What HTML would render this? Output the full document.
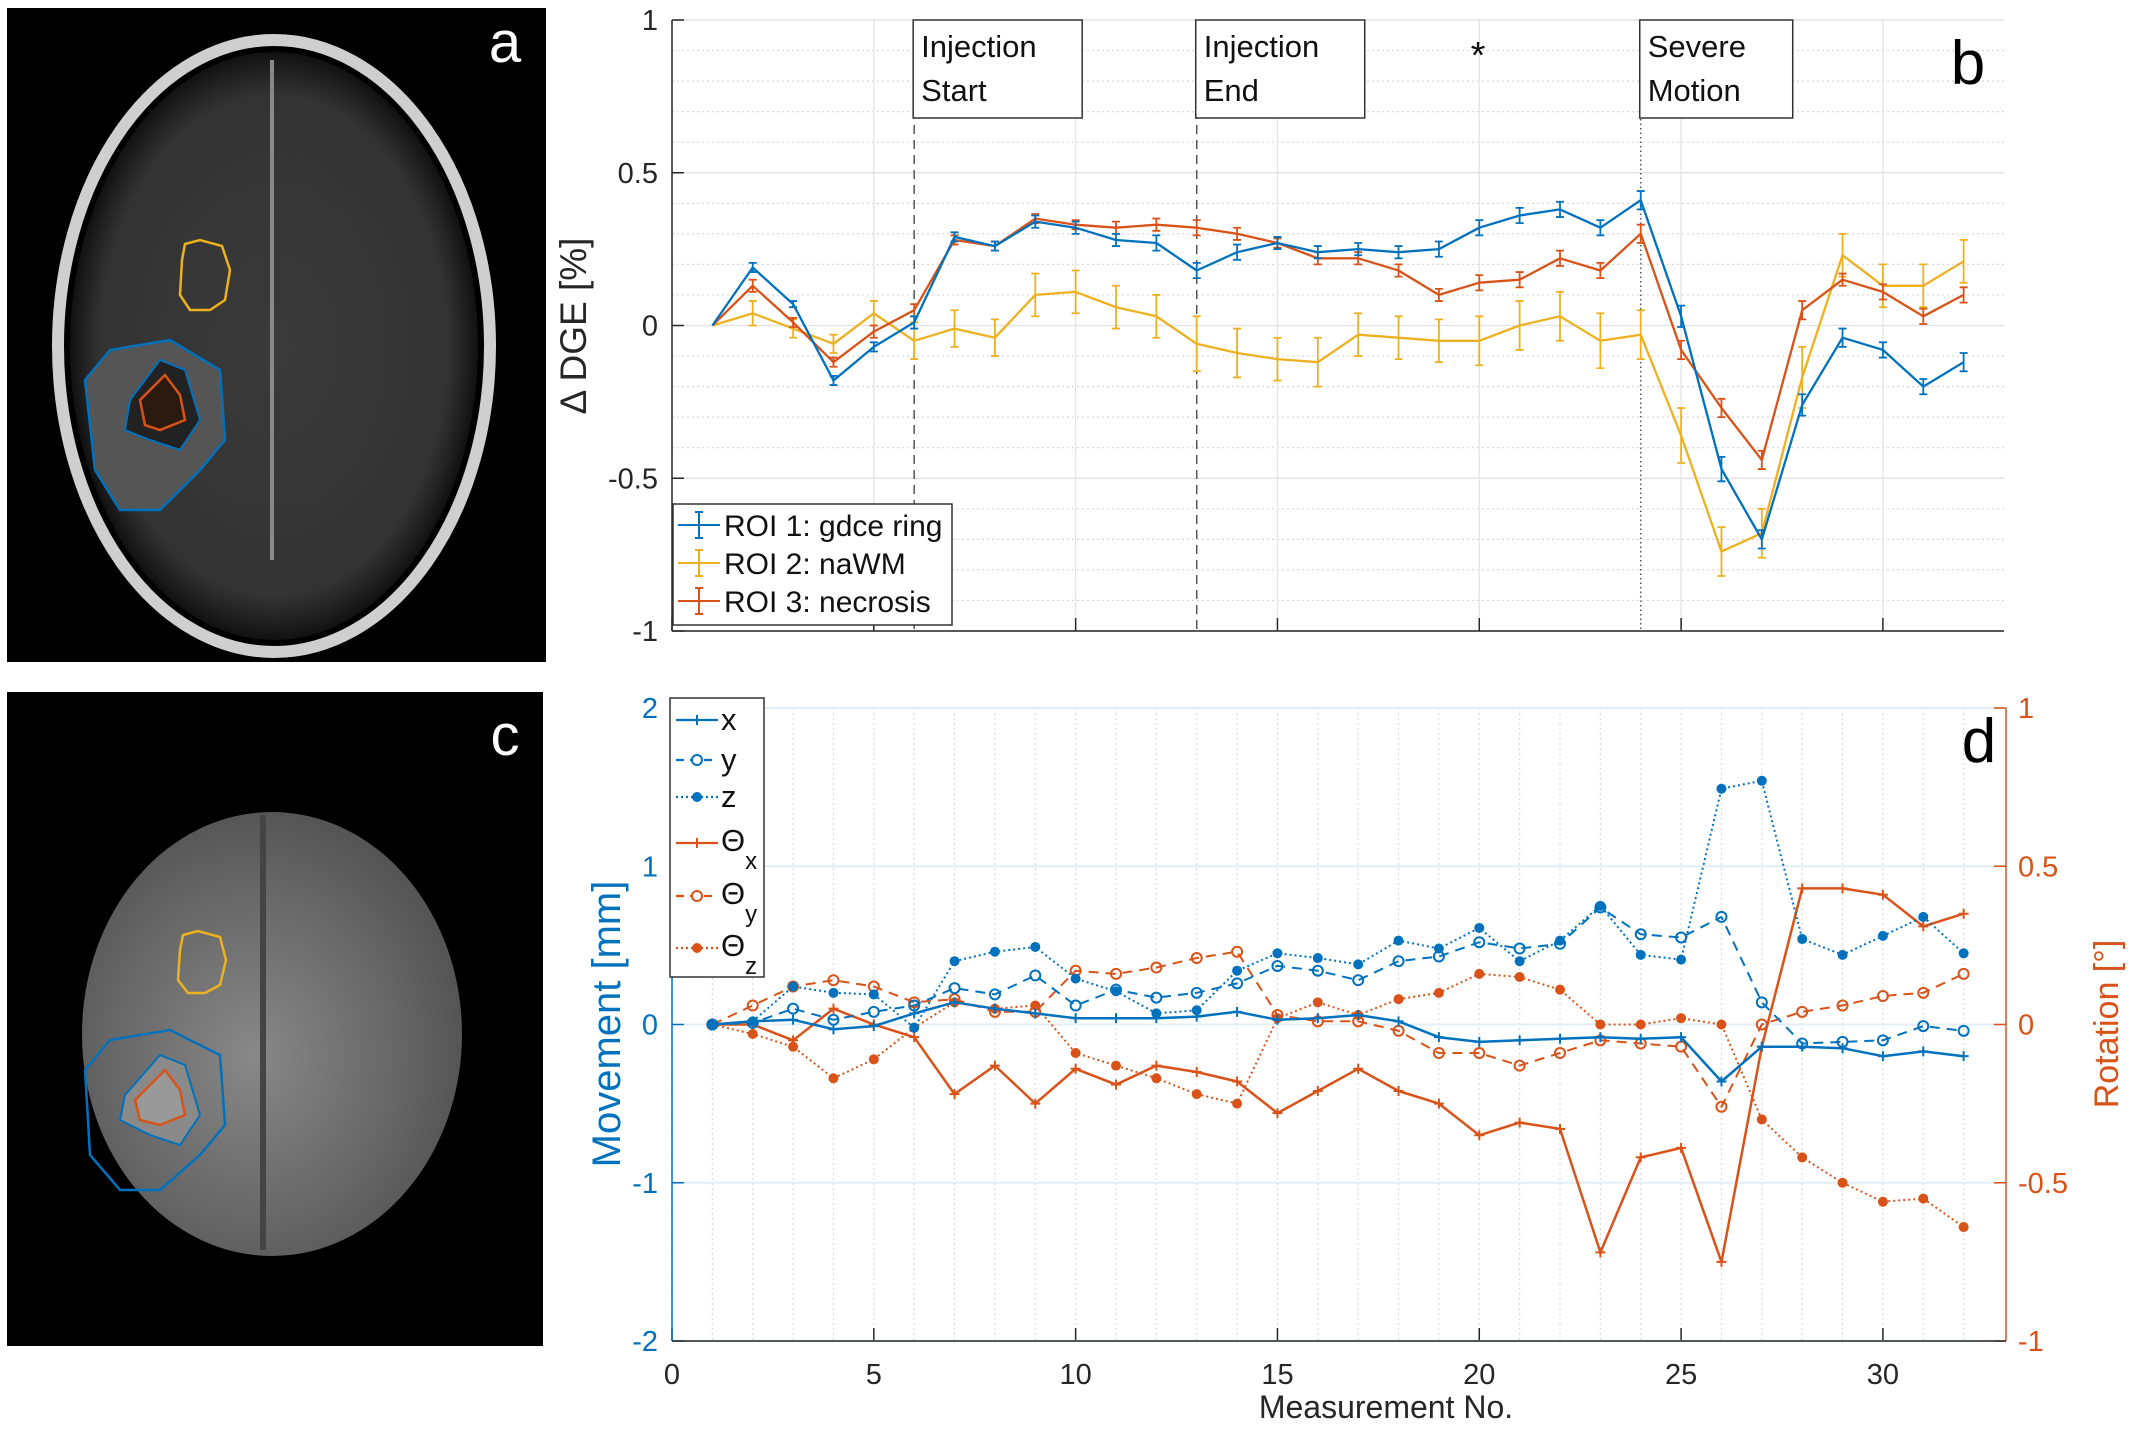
<!DOCTYPE html>
<html><head><meta charset="utf-8">
<style>
body{margin:0;background:#fff;}
svg{display:block;font-family:"Liberation Sans",sans-serif;}
</style></head>
<body>
<svg id="fig" width="2135" height="1431" viewBox="0 0 2135 1431" xmlns="http://www.w3.org/2000/svg">
<defs>
<radialGradient id="brainA" cx="50%" cy="50%" r="50%"><stop offset="0%" stop-color="#3a3a3a"/><stop offset="85%" stop-color="#333"/><stop offset="93%" stop-color="#222"/><stop offset="100%" stop-color="#111"/></radialGradient>
<radialGradient id="brainC" cx="45%" cy="55%" r="55%"><stop offset="0%" stop-color="#888"/><stop offset="70%" stop-color="#666"/><stop offset="100%" stop-color="#555"/></radialGradient>
</defs>
<g>
<rect x="7" y="8" width="539" height="654" fill="#000"/>
<ellipse cx="274" cy="346" rx="216" ry="306" fill="none" stroke="#cfcfcf" stroke-width="12"/>
<ellipse cx="274" cy="346" rx="204" ry="294" fill="url(#brainA)"/>
<line x1="272" y1="60" x2="272" y2="560" stroke="#888" stroke-width="4"/>
<path d="M185 244 L200 240 L222 246 L230 270 L225 300 L210 310 L190 310 L180 295 L182 260 Z" fill="none" stroke="#EDB120" stroke-width="2.5"/>
<path d="M85 380 L110 350 L170 340 L220 370 L225 440 L200 470 L160 510 L120 510 L95 470 Z" fill="#555" stroke="#0072BD" stroke-width="2.5"/>
<path d="M130 400 L160 360 L185 370 L200 420 L180 450 L150 440 L125 430 Z" fill="#222" stroke="#0072BD" stroke-width="2"/>
<path d="M140 400 L165 375 L180 395 L185 420 L160 430 L145 425 Z" fill="#2a1a10" stroke="#D95319" stroke-width="2.5"/>
<text x="505" y="62" font-size="58" fill="#fff" text-anchor="middle">a</text>
</g>
<g>
<rect x="7" y="692" width="536" height="654" fill="#000"/>
<ellipse cx="272" cy="1034" rx="190" ry="222" fill="url(#brainC)"/>
<line x1="263" y1="815" x2="263" y2="1250" stroke="#444" stroke-width="6"/>
<path d="M183 935 L198 931 L220 937 L226 960 L220 985 L205 993 L188 993 L178 980 L180 950 Z" fill="none" stroke="#EDB120" stroke-width="2.5"/>
<path d="M85 1070 L110 1040 L170 1030 L220 1055 L225 1125 L200 1155 L160 1190 L120 1190 L90 1155 Z" fill="none" stroke="#0072BD" stroke-width="2.5"/>
<path d="M125 1095 L160 1055 L185 1065 L200 1115 L180 1145 L150 1135 L120 1120 Z" fill="#8a8a8a" stroke="#0072BD" stroke-width="2"/>
<path d="M135 1100 L165 1070 L180 1090 L185 1115 L160 1125 L140 1120 Z" fill="#999" stroke="#D95319" stroke-width="2.5"/>
<text x="505" y="755" font-size="58" fill="#fff" text-anchor="middle">c</text>
</g>
<g id="pb"></g>
<g id="pd"></g>
</svg>
<script>
// ---------- Panel b data ----------
const bX = [1,2,3,4,5,6,7,8,9,10,11,12,13,14,15,16,17,18,19,20,21,22,23,24,25,26,27,28,29,30,31,32];
const roi1 = [0,0.19,0.07,-0.18,-0.07,0.01,0.29,0.26,0.34,0.32,0.28,0.27,0.18,0.24,0.27,0.24,0.25,0.24,0.25,0.32,0.36,0.38,0.32,0.41,0.03,-0.47,-0.70,-0.26,-0.04,-0.08,-0.20,-0.12];
const roi1Err = [0,0.015,0.01,0.015,0.015,0.02,0.015,0.015,0.02,0.02,0.02,0.025,0.025,0.025,0.02,0.02,0.02,0.02,0.025,0.025,0.025,0.025,0.025,0.03,0.035,0.04,0.03,0.035,0.03,0.025,0.025,0.03];
const roi2 = [0,0.04,-0.01,-0.06,0.04,-0.05,-0.01,-0.04,0.10,0.11,0.06,0.03,-0.06,-0.09,-0.11,-0.12,-0.03,-0.04,-0.05,-0.05,0.0,0.03,-0.05,-0.03,-0.36,-0.74,-0.68,-0.17,0.23,0.13,0.13,0.21];
const roi2Err = [0,0.04,0.03,0.03,0.04,0.06,0.06,0.06,0.07,0.07,0.07,0.07,0.09,0.08,0.07,0.08,0.07,0.07,0.07,0.08,0.08,0.08,0.09,0.08,0.09,0.08,0.08,0.1,0.07,0.07,0.07,0.07];
const roi3 = [0,0.13,0.01,-0.12,-0.02,0.05,0.28,0.26,0.35,0.33,0.32,0.33,0.32,0.30,0.27,0.22,0.22,0.18,0.10,0.14,0.15,0.22,0.18,0.30,-0.08,-0.27,-0.44,0.05,0.15,0.11,0.03,0.10];
const roi3Err = [0,0.02,0.015,0.015,0.02,0.02,0.015,0.015,0.015,0.015,0.02,0.02,0.025,0.02,0.015,0.02,0.02,0.02,0.02,0.025,0.025,0.025,0.025,0.03,0.03,0.03,0.03,0.03,0.02,0.025,0.025,0.025];
const bYTicks = [-1,-0.5,0,0.5,1];
const bYTickLabels = ["-1","-0.5","0","0.5","1"];
const events = [6,13,24];
const eventLabels = [["Injection","Start"],["Injection","End"],["Severe","Motion"]];
const xTicks = [0,5,10,15,20,25,30];
const xTickLabels = ["0","5","10","15","20","25","30"];
// ---------- Panel d data ----------
const dX = [1,2,3,4,5,6,7,8,9,10,11,12,13,14,15,16,17,18,19,20,21,22,23,24,25,26,27,28,29,30,31,32];
const movX = [0,0.02,0.03,-0.03,-0.01,0.07,0.14,0.10,0.07,0.04,0.04,0.04,0.05,0.08,0.03,0.04,0.06,0.02,-0.08,-0.11,-0.10,-0.09,-0.08,-0.09,-0.08,-0.36,-0.14,-0.14,-0.15,-0.20,-0.17,-0.20];
const movY = [0,0.01,0.10,0.03,0.08,0.12,0.23,0.19,0.31,0.12,0.22,0.17,0.20,0.26,0.37,0.34,0.28,0.40,0.43,0.52,0.48,0.51,0.74,0.57,0.55,0.68,0.14,-0.12,-0.11,-0.10,-0.01,-0.04];
const movZ = [0,0.02,0.24,0.20,0.19,-0.02,0.40,0.46,0.49,0.29,0.21,0.07,0.09,0.34,0.45,0.42,0.38,0.53,0.48,0.61,0.40,0.53,0.75,0.44,0.41,1.49,1.54,0.54,0.44,0.56,0.68,0.45];
const rotX = [0,0.0,-0.05,0.05,0.0,-0.04,-0.22,-0.13,-0.25,-0.14,-0.19,-0.13,-0.15,-0.18,-0.28,-0.21,-0.14,-0.21,-0.25,-0.35,-0.31,-0.33,-0.72,-0.42,-0.39,-0.75,-0.07,0.43,0.43,0.41,0.31,0.35];
const rotY = [0,0.06,0.12,0.14,0.12,0.07,0.08,0.04,0.04,0.17,0.16,0.18,0.21,0.23,0.03,0.01,0.01,-0.02,-0.09,-0.09,-0.13,-0.09,-0.05,-0.06,-0.07,-0.26,0.0,0.04,0.06,0.09,0.10,0.16];
const rotZ = [0,-0.03,-0.07,-0.17,-0.11,-0.01,0.07,0.05,0.06,-0.09,-0.13,-0.17,-0.22,-0.25,0.02,0.07,0.03,0.08,0.10,0.16,0.15,0.11,0.0,0.0,0.02,0.0,-0.30,-0.42,-0.50,-0.56,-0.55,-0.64];
const dYTicks = [-2,-1,0,1,2];
const dYTickLabels = ["-2","-1","0","1","2"];
const dRTicks = [-1,-0.5,0,0.5,1];
const dRTickLabels = ["-1","-0.5","0","0.5","1"];

const BLUE="#0072BD", YEL="#EDB120", RED="#D95319";
const NS="http://www.w3.org/2000/svg";
function mk(parent, tag, attrs, text){
  const e=document.createElementNS(NS,tag);
  for(const k in attrs) e.setAttribute(k, attrs[k]);
  if(text!==undefined) e.textContent=text;
  parent.appendChild(e); return e;
}
const L=672, R=2004, XMAX=33;
function xs(v){return L+(R-L)*v/XMAX;}

// ======== Panel b ========
const pb=document.getElementById('pb');


const bT=20, bB=631;
function yb(v){return bB-(bB-bT)*(v+1)/2;}
for(let v=-0.9; v<0.95; v+=0.1){
  if(Math.abs(Math.round(v*10)%5)===0) continue;
  mk(pb,'line',{x1:L,x2:R,y1:yb(v),y2:yb(v),stroke:"#d8d8d8","stroke-width":1.2,"stroke-dasharray":"2 3"});
}
for(let i=0;i<xTicks.length;i++){
  const g=mk(pb,'line',{x1:xs(xTicks[i]),x2:xs(xTicks[i]),y1:bT,y2:bB,stroke:"#e4e4e4","stroke-width":1.3});
  
  
}
for(let i=0;i<bYTicks.length;i++){
  const g=mk(pb,'line',{x1:L,x2:R,y1:yb(bYTicks[i]),y2:yb(bYTicks[i]),stroke:"#e4e4e4","stroke-width":1.5});
  
  
  const t=mk(pb,'text',{x:L-14,y:yb(bYTicks[i])+10,"font-size":29,"text-anchor":"end",fill:"#262626"},bYTickLabels[i]);
  
  
  mk(pb,'line',{x1:L,x2:L+12,y1:yb(bYTicks[i]),y2:yb(bYTicks[i]),stroke:"#262626","stroke-width":1.5});
}
for(let i=0;i<xTicks.length;i++){
  mk(pb,'line',{x1:xs(xTicks[i]),x2:xs(xTicks[i]),y1:bB,y2:bB-13,stroke:"#262626","stroke-width":1.5});
}
mk(pb,'line',{x1:L,x2:L,y1:bT,y2:bB,stroke:"#262626","stroke-width":1.5});
mk(pb,'line',{x1:L,x2:R,y1:bB,y2:bB,stroke:"#262626","stroke-width":1.5});
const bLab=mk(pb,'text',{x:0,y:0,"font-size":37,"text-anchor":"middle",fill:"#262626",transform:`translate(586,326) rotate(-90)`},"Δ DGE [%]");


for(let i=0;i<events.length;i++){
  const ex=xs(events[i]);
  const ln=mk(pb,'line',{x1:ex,x2:ex,y1:bT,y2:bB,stroke:"#555","stroke-width":1.5,"stroke-dasharray":i===2?"1.5 3":"9 6"});
  
  
  const w=[169,169,153][i];
  const bx=mk(pb,'rect',{x:ex-1,y:20,width:w,height:98,fill:"#fff",stroke:"#333","stroke-width":1.5});
  
  
  const t1=mk(pb,'text',{x:ex+7,y:57,"font-size":31,fill:"#111"},eventLabels[i][0]);
  
  
  const t2=mk(pb,'text',{x:ex+7,y:101,"font-size":31,fill:"#111"},eventLabels[i][1]);
  
  
}
const ast=mk(pb,'text',{x:1478,y:68,"font-size":38,"text-anchor":"middle",fill:"#111"},"*");


const bl=mk(pb,'text',{x:1968,y:84,"font-size":62,"text-anchor":"middle",fill:"#000"},"b");


function series(parent, xsArr, ys, yf, color, name, err, dash, width){
  const pts=xsArr.map((x,i)=>xs(x).toFixed(1)+","+yf(ys[i]).toFixed(1)).join(" ");
  const pl=mk(parent,'polyline',{points:pts,fill:"none",stroke:color,"stroke-width":width||2.3,"stroke-dasharray":dash||"none","stroke-linejoin":"round"});
  
  
  if(err){
    for(let i=0;i<xsArr.length;i++){
      if(!err[i]) continue;
      const cx=xs(xsArr[i]), y1=yf(ys[i]+err[i]), y2=yf(ys[i]-err[i]);
      const eb=mk(parent,'path',{d:`M${cx},${y1}V${y2}M${cx-4},${y1}H${cx+4}M${cx-4},${y2}H${cx+4}`,stroke:color,"stroke-width":1.8,fill:"none"});
      
      
    }
  }
  return pl;
}
series(pb,bX,roi2,yb,YEL,'roi2-nawm',roi2Err);
series(pb,bX,roi3,yb,RED,'roi3-necrosis',roi3Err);
series(pb,bX,roi1,yb,BLUE,'roi1-gdce-ring',roi1Err);
const lgb=mk(pb,'g',{});


mk(lgb,'rect',{x:673,y:504,width:279,height:121,fill:"#fff",stroke:"#333","stroke-width":1.5});
const bLeg=[["ROI 1: gdce ring",BLUE],["ROI 2: naWM",YEL],["ROI 3: necrosis",RED]];
for(let i=0;i<3;i++){
  const y=525+i*38;
  mk(lgb,'path',{d:`M678,${y}H720M699,${y-13}V${y+13}M695,${y-13}H703M695,${y+13}H703`,stroke:bLeg[i][1],"stroke-width":2,fill:"none"});
  const t=mk(lgb,'text',{x:724,y:y+11,"font-size":30,fill:"#111"},bLeg[i][0]);
  
  
}

// ======== Panel d ========
const pd=document.getElementById('pd');


const dT=708, dB=1341, DR=2006;
function yd(v){return dB-(dB-dT)*(v+2)/4;}
function yr(v){return dB-(dB-dT)*(v+1)/2;}
for(let k=1;k<=32;k++){
  if(k%5===0) continue;
  mk(pd,'line',{x1:xs(k),x2:xs(k),y1:dT,y2:dB,stroke:"#dcdcdc","stroke-width":1.2,"stroke-dasharray":"2 3"});
}
for(let i=0;i<xTicks.length;i++){
  mk(pd,'line',{x1:xs(xTicks[i]),x2:xs(xTicks[i]),y1:dT,y2:dB,stroke:"#dcdcdc","stroke-width":1.2,"stroke-dasharray":"2 3"});
  mk(pd,'line',{x1:xs(xTicks[i]),x2:xs(xTicks[i]),y1:dB,y2:dB-13,stroke:"#262626","stroke-width":1.5});
  const t=mk(pd,'text',{x:xs(xTicks[i]),y:1384,"font-size":29,"text-anchor":"middle",fill:"#262626"},xTickLabels[i]);
  
  
}
for(let i=0;i<dYTicks.length;i++){
  mk(pd,'line',{x1:L,x2:DR,y1:yd(dYTicks[i]),y2:yd(dYTicks[i]),stroke:"#e3eef7","stroke-width":2});
  mk(pd,'line',{x1:L,x2:L+12,y1:yd(dYTicks[i]),y2:yd(dYTicks[i]),stroke:BLUE,"stroke-width":1.5});
  const t=mk(pd,'text',{x:L-14,y:yd(dYTicks[i])+10,"font-size":29,"text-anchor":"end",fill:BLUE},dYTickLabels[i]);
  
  
}
for(let i=0;i<dRTicks.length;i++){
  mk(pd,'line',{x1:DR-12,x2:DR,y1:yr(dRTicks[i]),y2:yr(dRTicks[i]),stroke:RED,"stroke-width":1.5});
  const t=mk(pd,'text',{x:DR+12,y:yr(dRTicks[i])+10,"font-size":29,"text-anchor":"start",fill:RED},dRTickLabels[i]);
  
  
}
mk(pd,'line',{x1:L,x2:L,y1:dT,y2:dB,stroke:BLUE,"stroke-width":1.5});
mk(pd,'line',{x1:DR,x2:DR,y1:dT,y2:dB,stroke:RED,"stroke-width":1.5});
mk(pd,'line',{x1:L,x2:DR,y1:dB,y2:dB,stroke:"#262626","stroke-width":1.5});
const xt=mk(pd,'text',{x:1386,y:1418,"font-size":32,"text-anchor":"middle",fill:"#262626"},"Measurement No.");


const ml=mk(pd,'text',{x:0,y:0,"font-size":40,"text-anchor":"middle",fill:BLUE,transform:"translate(620,1024) rotate(-90)"},"Movement [mm]");


const rl=mk(pd,'text',{x:0,y:0,"font-size":34,"text-anchor":"middle",fill:RED,transform:"translate(2118,1024) rotate(-90)"},"Rotation [°]");


const dl=mk(pd,'text',{x:1979,y:762,"font-size":62,"text-anchor":"middle",fill:"#000"},"d");


function markers(parent, xsArr, ys, yf, color, kind, name){
  for(let i=0;i<xsArr.length;i++){
    const cx=xs(xsArr[i]), cy=yf(ys[i]);
    let m;
    if(kind==='plus') m=mk(parent,'path',{d:`M${cx-5},${cy}H${cx+5}M${cx},${cy-5}V${cy+5}`,stroke:color,"stroke-width":2,fill:"none"});
    else if(kind==='open') m=mk(parent,'circle',{cx:cx,cy:cy,r:5,fill:"none",stroke:color,"stroke-width":2});
    else m=mk(parent,'circle',{cx:cx,cy:cy,r:5,fill:color});
    
    
  }
}
series(pd,dX,rotZ,yr,RED,'theta-z',null,"2 3",2);
markers(pd,dX,rotZ,yr,RED,'dot','theta-z');
series(pd,dX,rotY,yr,RED,'theta-y',null,"10 7",2);
markers(pd,dX,rotY,yr,RED,'open','theta-y');
series(pd,dX,rotX,yr,RED,'theta-x',null,null,2.5);
markers(pd,dX,rotX,yr,RED,'plus','theta-x');
series(pd,dX,movZ,yd,BLUE,'move-z',null,"2 3",2);
markers(pd,dX,movZ,yd,BLUE,'dot','move-z');
series(pd,dX,movY,yd,BLUE,'move-y',null,"10 7",2);
markers(pd,dX,movY,yd,BLUE,'open','move-y');
series(pd,dX,movX,yd,BLUE,'move-x',null,null,2.5);
markers(pd,dX,movX,yd,BLUE,'plus','move-x');
const lgd=mk(pd,'g',{});


mk(lgd,'rect',{x:670,y:698,width:94,height:279,fill:"#fff",stroke:"#333","stroke-width":1.5});
const dLeg=[["x","",BLUE,"none","plus",720],["y","",BLUE,"8 6","open",760],["z","",BLUE,"2 3","dot",797],["Θ","x",RED,"none","plus",843],["Θ","y",RED,"8 6","open",896],["Θ","z",RED,"2 3","dot",948]];
for(let i=0;i<dLeg.length;i++){
  const e=dLeg[i], y=e[5];
  mk(lgd,'line',{x1:676,x2:718,y1:y,y2:y,stroke:e[2],"stroke-width":2.3,"stroke-dasharray":e[3]});
  if(e[4]==='plus') mk(lgd,'path',{d:`M697,${y-5}V${y+5}`,stroke:e[2],"stroke-width":2});
  else if(e[4]==='open') mk(lgd,'circle',{cx:697,cy:y,r:5,fill:"#fff",stroke:e[2],"stroke-width":2});
  else mk(lgd,'circle',{cx:697,cy:y,r:5,fill:e[2]});
  const t=mk(lgd,'text',{x:721,y:y+(e[1]?8:10),"font-size":31,fill:"#111"},e[0]);
  if(e[1]){ mk(t,'tspan',{dy:18,"font-size":24},e[1]); }
  
  
}
</script>
</body></html>
